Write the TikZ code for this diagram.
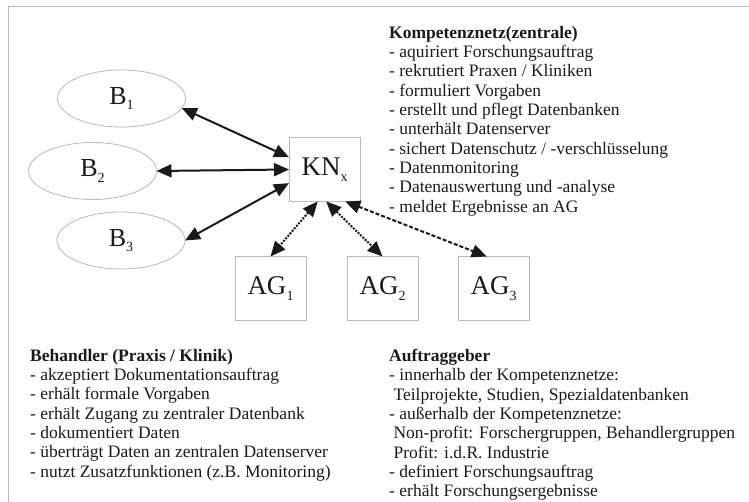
\documentclass[tikz,border=0pt]{standalone}
\usepackage{fontspec}
\setmainfont{Liberation Serif}
\usetikzlibrary{arrows.meta,shapes.geometric}
\newcommand\lsub[1]{\raisebox{-0.22em}{\fontsize{14}{14}\selectfont #1}}
\definecolor{framegray}{HTML}{B8B8B8}
\definecolor{txt}{HTML}{1A1A1A}
\begin{document}
\begin{tikzpicture}[x=1pt,y=-1pt,
  bnode/.style={ellipse, draw=framegray, line width=0.8pt, minimum width=128pt, minimum height=57pt, inner sep=0pt, outer sep=0pt, text=txt, font=\fontsize{26}{26}\selectfont},
  boxnode/.style={rectangle, draw=framegray, line width=0.8pt, minimum width=71pt, minimum height=64pt, inner sep=0pt, outer sep=0pt, text=txt, font=\fontsize{27}{27}\selectfont},
  solidarrow/.style={{Triangle[length=15pt,width=13pt]}-{Triangle[length=15pt,width=13pt]}, line width=2pt, draw=txt},
  dotarrow/.style={solidarrow, dash pattern=on 2pt off 1.3pt},
  dasharrow/.style={solidarrow, dash pattern=on 4pt off 2pt},
  info/.style={anchor=north west, inner sep=0pt, align=left, text=txt, font=\fontsize{17.5}{19.3}\selectfont}]
\useasboundingbox (0,0) rectangle (749,502);
\draw[framegray, line width=1pt] (749,7) -- (8,7) -- (8,502);

\node[bnode] (B1) at (121.5,98.5) {B\lsub{1}};
\node[bnode] (B2) at (92.5,171) {B\lsub{2}};
\node[bnode] (B3) at (121,240.5) {B\lsub{3}};
\node[boxnode] (KN) at (324.5,169.5) {KN\lsub{x}};
\node[boxnode] (AG1) at (270.5,288.5) {AG\lsub{1}};
\node[boxnode] (AG2) at (382.5,288.5) {AG\lsub{2}};
\node[boxnode] (AG3) at (493.5,288.5) {AG\lsub{3}};

\draw[solidarrow] (B1.-9) -- (KN.161);
\draw[solidarrow] (B2.east) -- (KN.west);
\draw[solidarrow] (B3.east) -- (KN.201);
\draw[dotarrow] (KN.258) -- (AG1.north);
\draw[dotarrow] (KN.273) -- (AG2.north);
\draw[dasharrow] (KN.303) -- (AG3.102);

\node[info] (kz) at (389,26) {\textbf{Kompetenznetz(zentrale)}\\
- aquiriert Forschungsauftrag\\
- rekrutiert Praxen / Kliniken\\
- formuliert Vorgaben\\
- erstellt und pflegt Datenbanken\\
- unterhält Datenserver\\
- sichert Datenschutz / -verschlüsselung\\
- Datenmonitoring\\
- Datenauswertung und -analyse\\
- meldet Ergebnisse an AG};

\node[info] (bh) at (30,349) {\textbf{Behandler (Praxis / Klinik)}\\
- akzeptiert Dokumentationsauftrag\\
- erhält formale Vorgaben\\
- erhält Zugang zu zentraler Datenbank\\
- dokumentiert Daten\\
- überträgt Daten an zentralen Datenserver\\
- nutzt Zusatzfunktionen (z.B. Monitoring)};

\node[info] (ag) at (389,349) {\textbf{Auftraggeber}\\
- innerhalb der Kompetenznetze:\\
\hspace*{0.25em}Teilprojekte, Studien, Spezialdatenbanken\\
- außerhalb der Kompetenznetze:\\
\hspace*{0.25em}Non-profit: Forschergruppen, Behandlergruppen\\
\hspace*{0.25em}Profit: i.d.R. Industrie\\
- definiert Forschungsauftrag\\
- erhält Forschungsergebnisse};
\end{tikzpicture}
\end{document}
